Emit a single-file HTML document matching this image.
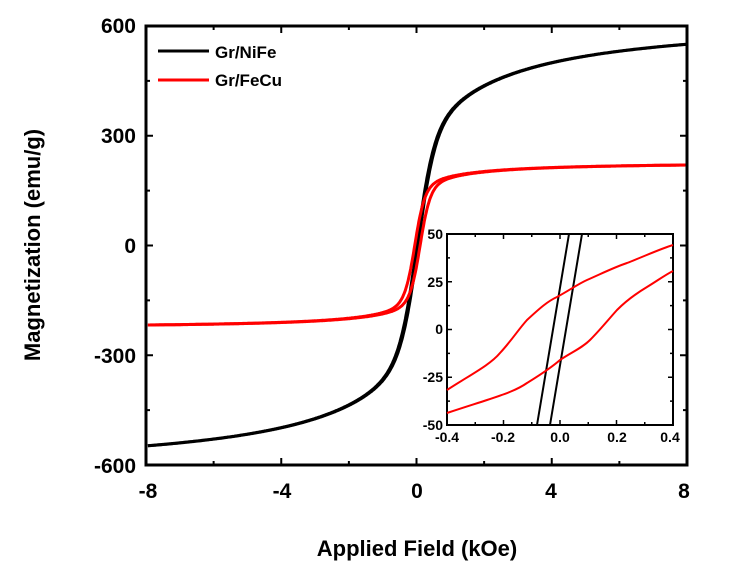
<!DOCTYPE html>
<html><head><meta charset="utf-8"><style>
body{margin:0;background:#fff;}
svg{display:block;font-family:"Liberation Sans",sans-serif;font-weight:bold;}
</style></head><body>
<svg id="s" width="740" height="580" viewBox="0 0 740 580" xmlns="http://www.w3.org/2000/svg">
<rect width="740" height="580" fill="#fff"/>
<g id="curves" fill="none" stroke-width="3"></g>
<rect x="146" y="26" width="541" height="439" fill="none" stroke="#000" stroke-width="3"/>
<g id="ticks" stroke="#000" stroke-width="2"></g>
<g font-size="21" text-anchor="end">
<text x="136" y="33">600</text><text x="136" y="143">300</text><text x="136" y="253">0</text>
<text x="136" y="363">-300</text><text x="136" y="473">-600</text></g>
<g font-size="21" text-anchor="middle">
<text x="148" y="498">-8</text><text x="282" y="498">-4</text><text x="417" y="498">0</text>
<text x="551" y="498">4</text><text x="684" y="498">8</text></g>
<text x="417" y="556" font-size="22" text-anchor="middle">Applied Field (kOe)</text>
<text transform="translate(40,245) rotate(-90)" font-size="22" text-anchor="middle">Magnetization (emu/g)</text>
<line x1="158" y1="51" x2="209" y2="51" stroke="#000" stroke-width="3"/>
<line x1="158" y1="80" x2="209" y2="80" stroke="#f00" stroke-width="3"/>
<text x="215" y="58" font-size="17">Gr/NiFe</text>
<text x="215" y="86" font-size="17">Gr/FeCu</text>
<!-- inset -->
<rect x="447" y="234" width="226" height="191" fill="#fff" stroke="#000" stroke-width="2"/>
<g fill="none" stroke-width="2">
<path d="M537 425 L569 234 M550 425 L582 234" stroke="#000"/>
<path d="M447 390 C470 375 490 365 500 353 C512 340 518 330 527 320 C540 308 548 301 557 297 C570 290 578 284 587 280 C605 272 615 267 627 263 C645 256 660 249 673 245" stroke="#f00"/>
<path d="M447 413 C465 407 478 403 487 400 C505 394 517 390 527 383 C540 375 552 367 560 360 C572 352 582 348 590 340 C600 330 608 320 617 310 C627 300 637 293 647 287 C657 281 665 275 673 271" stroke="#f00"/>
</g>
<g id="iticks" stroke="#000" stroke-width="1.5"></g>
<g font-size="14" text-anchor="end">
<text x="443" y="239">50</text><text x="443" y="287">25</text><text x="443" y="334">0</text>
<text x="443" y="382">-25</text><text x="443" y="430">-50</text></g>
<g font-size="14" text-anchor="middle">
<text x="447" y="442">-0.4</text><text x="503" y="442">-0.2</text><text x="560" y="442">0.0</text>
<text x="617" y="442">0.2</text><text x="670" y="442">0.4</text></g>
</svg>
<script>
const X=x=>417.5+x*33.7, Y=m=>245-m*110/300;
function path(f,a,b,c){let d='';for(let i=0;i<=800;i++){let x=a+(b-a)*i/800;d+=(i?'L':'M')+X(x).toFixed(1)+' '+Y(f(x)).toFixed(1)+' ';}return `<path d="${d}" stroke="${c}"/>`;}
const ni=(x,s)=>{let u=x-s*0.02;return 250*Math.tanh(u/0.5)+373*u/(Math.abs(u)+2.03);};
const fe=(x,s)=>{let u=x-s*0.08;return 140*Math.tanh(u/0.3)+87*u/(Math.abs(u)+0.9);};
let g=document.getElementById('curves');
g.innerHTML=path(x=>ni(x,1),-8,8,'#000')+path(x=>ni(x,-1),-8,8,'#000')+path(x=>fe(x,1),-8,8,'#f00')+path(x=>fe(x,-1),-8,8,'#f00');
let t='';
for(let i=0;i<=8;i++){let x=146+i*541/8,L=i%2?4:7;t+=`<line x1="${x}" y1="465" x2="${x}" y2="${465-L}"/><line x1="${x}" y1="26" x2="${x}" y2="${26+L}"/>`;}
for(let i=0;i<=8;i++){let y=26+i*439/8,L=i%2?4:7;t+=`<line x1="146" y1="${y}" x2="${146+L}" y2="${y}"/><line x1="687" y1="${y}" x2="${687-L}" y2="${y}"/>`;}
document.getElementById('ticks').innerHTML=t;
t='';
for(let i=0;i<=8;i++){let x=447+i*226/8,L=i%2?3:5;t+=`<line x1="${x}" y1="425" x2="${x}" y2="${425-L}"/><line x1="${x}" y1="234" x2="${x}" y2="${234+L}"/>`;}
for(let i=0;i<=8;i++){let y=234+i*191/8,L=i%2?3:5;t+=`<line x1="447" y1="${y}" x2="${447+L}" y2="${y}"/><line x1="673" y1="${y}" x2="${673-L}" y2="${y}"/>`;}
document.getElementById('iticks').innerHTML=t;
</script>
</body></html>
